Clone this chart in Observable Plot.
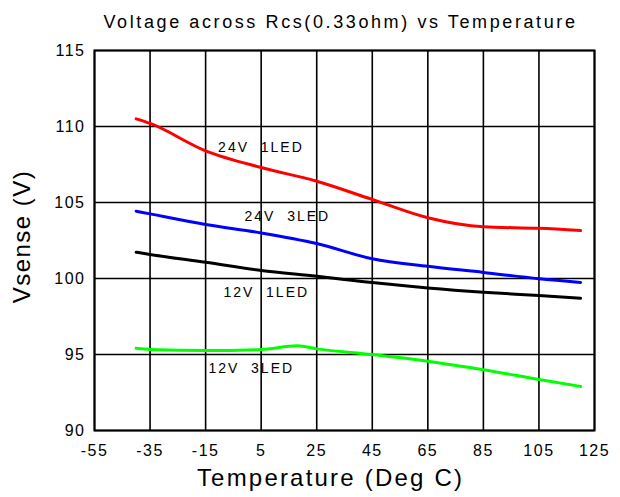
<!DOCTYPE html>
<html><head><meta charset="utf-8">
<script src="https://cdn.jsdelivr.net/npm/d3@7"></script>
<script src="https://cdn.jsdelivr.net/npm/@observablehq/plot@0.6"></script>
<style>
body{margin:0;background:#fff;font-family:"Liberation Sans",Arial,sans-serif}
g[aria-label="x-axis tick label"] text, g[aria-label="y-axis tick label"] text{letter-spacing:1.5px}
.lbl text{letter-spacing:2px}
.ttl text{letter-spacing:2.6px}
.xl text{letter-spacing:2.2px}
.yl text{letter-spacing:1.5px}
</style>
</head><body><div id="chart"></div>
<script>
const title = "Voltage across Rcs(0.33ohm) vs Temperature";
const xLabel = "Temperature (Deg C)";
const yLabel = "Vsense (V)";
const xTicks = [-55,-35,-15,5,25,45,65,85,105,125];
const yTicks = [90,95,100,105,110,115];
const temps = [-40,-35,-15,5,25,45,65,85,105,120];
const v24_1 = [110.5,110.2,108.4,107.3,106.4,105.2,104.0,103.4,103.3,103.15];
const v24_3 = [104.43,104.25,103.55,103.0,102.3,101.3,100.8,100.4,99.98,99.74];
const v12_1 = [101.73,101.58,101.07,100.53,100.15,99.73,99.38,99.1,98.88,98.7];
const tempsG = [-40,-35,-15,5,18,25,45,65,85,105,120];
const v12_3 = [95.41,95.33,95.26,95.33,95.57,95.37,95.0,94.56,94.0,93.36,92.9];
const seriesNames = ["24V  1LED","24V  3LED","12V  1LED","12V  3LED"];
const seriesColors = ["#ff0000","#0000ff","#000000","#00ff00"];
const labelPos = [[-10.5,108.64],[-1,104.08],[-8.6,99.1],[-14,94.06]];

const rows = [];
[[temps,v24_1],[temps,v24_3],[temps,v12_1],[tempsG,v12_3]].forEach(([t,v],i)=>{
  t.forEach((x,j)=>rows.push({s:seriesNames[i],t:x,v:v[j]}));
});
const labels = seriesNames.map((s,i)=>({s,t:labelPos[i][0],v:labelPos[i][1]}));

const chart = Plot.plot({
  width:620,height:497,
  marginLeft:94,marginRight:26,marginTop:50,marginBottom:67,
  style:{fontFamily:"'Liberation Sans',Arial,sans-serif",background:"#fff",color:"#000"},
  x:{domain:[-55,125]},
  y:{domain:[90,115]},
  color:{domain:seriesNames,range:seriesColors},
  marks:[
    Plot.gridX(xTicks,{stroke:"#000",strokeOpacity:1,strokeWidth:1.6}),
    Plot.gridY(yTicks,{stroke:"#000",strokeOpacity:1,strokeWidth:1.6}),
    Plot.frame({stroke:"#000",strokeWidth:2}),
    Plot.axisX(xTicks,{tickSize:0,tickPadding:14,fontSize:16,label:null,tickFormat:d=>String(d)}),
    Plot.axisY(yTicks,{tickSize:0,tickPadding:9,fontSize:16,label:null}),
    Plot.line(rows,{x:"t",y:"v",z:"s",stroke:"s",strokeWidth:3,curve:"monotone-x"}),
    Plot.text(labels,{x:"t",y:"v",text:"s",textAnchor:"start",fontSize:14,fill:"#000",className:"lbl"}),
    Plot.text([title],{frameAnchor:"top",dy:-35,dx:-4,fontSize:18,fill:"#000",className:"ttl"}),
    Plot.text([xLabel],{frameAnchor:"bottom",dy:55,dx:-14,fontSize:24,fill:"#000",className:"xl"}),
    Plot.text([yLabel],{frameAnchor:"left",textAnchor:"middle",dx:-72,dy:-4,rotate:-90,fontSize:24,fill:"#000",className:"yl"})
  ]
});
document.getElementById("chart").append(chart);
</script></body></html>
